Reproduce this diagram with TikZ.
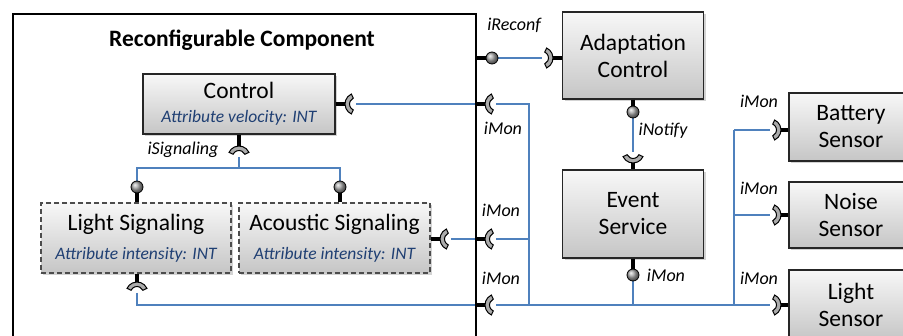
\documentclass[tikz,border=0pt]{standalone}
\usepackage{fontspec}
\setmainfont{Carlito}
\usetikzlibrary{shadows}
\definecolor{conn}{HTML}{4F81BD}
\definecolor{attrc}{HTML}{1F3F73}
\newcommand{\bigtxt}{\fontsize{23.5}{27}\selectfont}
\newcommand{\attrtxt}{\fontsize{17.5}{20}\selectfont\itshape\color{attrc}}
\begin{document}
\begin{tikzpicture}[x=1pt,y=-1pt,
  box/.style={draw=black!85, line width=1.3pt, top color=gray!6, bottom color=gray!45,
    inner sep=0pt, align=center, font=\bigtxt,
    drop shadow={opacity=0.35, shadow xshift=2pt, shadow yshift=-2pt}},
  dbox/.style={box, dash pattern=on 5pt off 3pt, draw=black!70},
  stub/.style={line width=3.5pt, black},
  wire/.style={conn, line width=1.1pt},
  lbl/.style={font=\fontsize{18}{20}\selectfont\itshape, inner sep=0pt},
  ball/.pic={\shade[ball color=gray!70, draw=black, line width=0.8pt] (0,0) circle (6pt);},
  socket/.pic={\filldraw[fill=gray!65, draw=black, line width=1pt, x=1pt, y=1pt]
     (115:11) arc[start angle=115, end angle=245, radius=11] -- (245:6.5)
     arc[start angle=245, end angle=115, radius=6.5] -- cycle;},
]
\useasboundingbox (0,0) rectangle (903,336);
\clip (0,0) rectangle (903,336);

% main component
\node[draw, line width=1.8pt, minimum width=463pt, minimum height=332pt, inner sep=0pt,
  anchor=north west] (rc) at (12,13) {};
\node[font=\fontsize{23.5}{26}\selectfont\bfseries, inner sep=0pt] (title) at (242,40) {Reconfigurable Component};

% boxes
\node[box, minimum width=192pt, minimum height=60pt] (ctrl) at (239,104)
  {Control\\[-3pt]{\attrtxt Attribute velocity: INT}};
\node[dbox, minimum width=190pt, minimum height=70pt] (ls) at (136,238)
  {Light Signaling\\[2pt]{\attrtxt Attribute intensity: INT}};
\node[dbox, minimum width=191pt, minimum height=70pt] (as) at (334.5,238)
  {Acoustic Signaling\\[2pt]{\attrtxt Attribute intensity: INT}};
\node[box, minimum width=141pt, minimum height=87pt] (ac) at (633,55.5) {Adaptation\\Control};
\node[box, minimum width=141pt, minimum height=88pt] (es) at (633,214) {Event\\Service};
\node[box, minimum width=124pt, minimum height=68pt] (bat) at (851,127) {Battery\\Sensor};
\node[box, minimum width=124pt, minimum height=66pt] (noise) at (851,215) {Noise\\Sensor};
\node[box, minimum width=124pt, minimum height=70pt] (lsen) at (851,305) {Light\\Sensor};

% port coordinates
\coordinate (ctrlSock) at (356,104);
\coordinate (bIn1) at (475,104);
\coordinate (bSock1) at (496,104);
\coordinate (j1) at (529,104);
\coordinate (bIn0) at (475,58);
\coordinate (recBall) at (492,58);
\coordinate (acSock) at (542,58);
\coordinate (acBall) at (633,112);
\coordinate (esSock) at (633,152);
\coordinate (esBall) at (633,275);
\coordinate (j3) at (633,305);
\coordinate (asSock) at (451,239);
\coordinate (bIn2) at (475,239);
\coordinate (bSock2) at (496,239);
\coordinate (j2) at (529,239);
\coordinate (bIn3) at (475,305);
\coordinate (bSock3) at (496,305);
\coordinate (jb) at (529,305);
\coordinate (lsSock) at (137,293);
\coordinate (lsCorner) at (137,305);
\coordinate (ctrlSockB) at (239,157);
\coordinate (sigJ) at (239,168);
\coordinate (lsBall) at (137,187);
\coordinate (asBall) at (340,187);
\coordinate (lsTop) at (137,168);
\coordinate (asTop) at (340,168);
\coordinate (batSock) at (770,130);
\coordinate (noiseSock) at (770,215);
\coordinate (lsenSock) at (770,305);
\coordinate (v1) at (734,130);
\coordinate (v2) at (734,215);
\coordinate (v3) at (734,305);

% wires
\draw[wire] (ctrlSock) -- (bIn1);
\draw[wire] (bSock1) -- (j1) -- (jb);
\draw[wire] (bSock2) -- (j2);
\draw[wire] (recBall) -- (acSock);
\draw[wire] (acBall) -- (esSock);
\draw[wire] (esBall) -- (j3);
\draw[wire] (asSock) -- (bIn2);
\draw[wire] (bSock3) -- (lsenSock);
\draw[wire] (lsSock) -- (lsCorner) -- (bIn3);
\draw[wire] (ctrlSockB) -- (sigJ);
\draw[wire] (lsBall) -- (lsTop) -- (asTop) -- (asBall);
\draw[wire] (v1) -- (v3);
\draw[wire] (v1) -- (batSock);
\draw[wire] (v2) -- (noiseSock);

% stubs
\draw[stub] (ctrl.east) -- ([xshift=-10pt]ctrlSock);
\draw[stub] (bIn1) -- ([xshift=-10pt]bSock1);
\draw[stub] (bIn2) -- ([xshift=-10pt]bSock2);
\draw[stub] (bIn3) -- ([xshift=-10pt]bSock3);
\draw[stub] (bIn0) -- (recBall);
\draw[stub] (ac.west |- acSock) -- ([xshift=10pt]acSock);
\draw[stub] (ac.south) -- (acBall);
\draw[stub] (es.north) -- ([yshift=-10pt]esSock);
\draw[stub] (es.south) -- (esBall);
\draw[stub] (as.east |- asSock) -- ([xshift=-10pt]asSock);
\draw[stub] (lsSock |- ls.south) -- ([yshift=10pt]lsSock);
\draw[stub] (ctrl.south) -- ([yshift=10pt]ctrlSockB);
\draw[stub] (lsBall |- ls.north) -- (lsBall);
\draw[stub] (asBall |- as.north) -- (asBall);
\draw[stub] (bat.west |- batSock) -- ([xshift=10pt]batSock);
\draw[stub] (noise.west |- noiseSock) -- ([xshift=10pt]noiseSock);
\draw[stub] (lsen.west |- lsenSock) -- ([xshift=10pt]lsenSock);

% port symbols
\pic at (ctrlSock) {socket};
\pic at (bSock1) {socket};
\pic at (bSock2) {socket};
\pic at (bSock3) {socket};
\pic at (asSock) {socket};
\pic[rotate=180] at (acSock) {socket};
\pic[rotate=90] at (esSock) {socket};
\pic[rotate=-90] at (lsSock) {socket};
\pic[rotate=-90] at (ctrlSockB) {socket};
\pic[rotate=180] at (batSock) {socket};
\pic[rotate=180] at (noiseSock) {socket};
\pic[rotate=180] at (lsenSock) {socket};
\pic at (recBall) {ball};
\pic at (acBall) {ball};
\pic at (esBall) {ball};
\pic at (lsBall) {ball};
\pic at (asBall) {ball};

% labels
\node[lbl] (l1) at (514,25) {iReconf};
\node[lbl] (l2) at (503,128) {iMon};
\node[lbl] (l3) at (663,131) {iNotify};
\node[lbl] (l4) at (501,210) {iMon};
\node[lbl] (l5) at (501,278) {iMon};
\node[lbl] (l6) at (666,275) {iMon};
\node[lbl] (l7) at (759,101) {iMon};
\node[lbl] (l8) at (759,188) {iMon};
\node[lbl] (l9) at (759,278) {iMon};
\node[lbl] (l10) at (183,150) {iSignaling};
\end{tikzpicture}
\end{document}
